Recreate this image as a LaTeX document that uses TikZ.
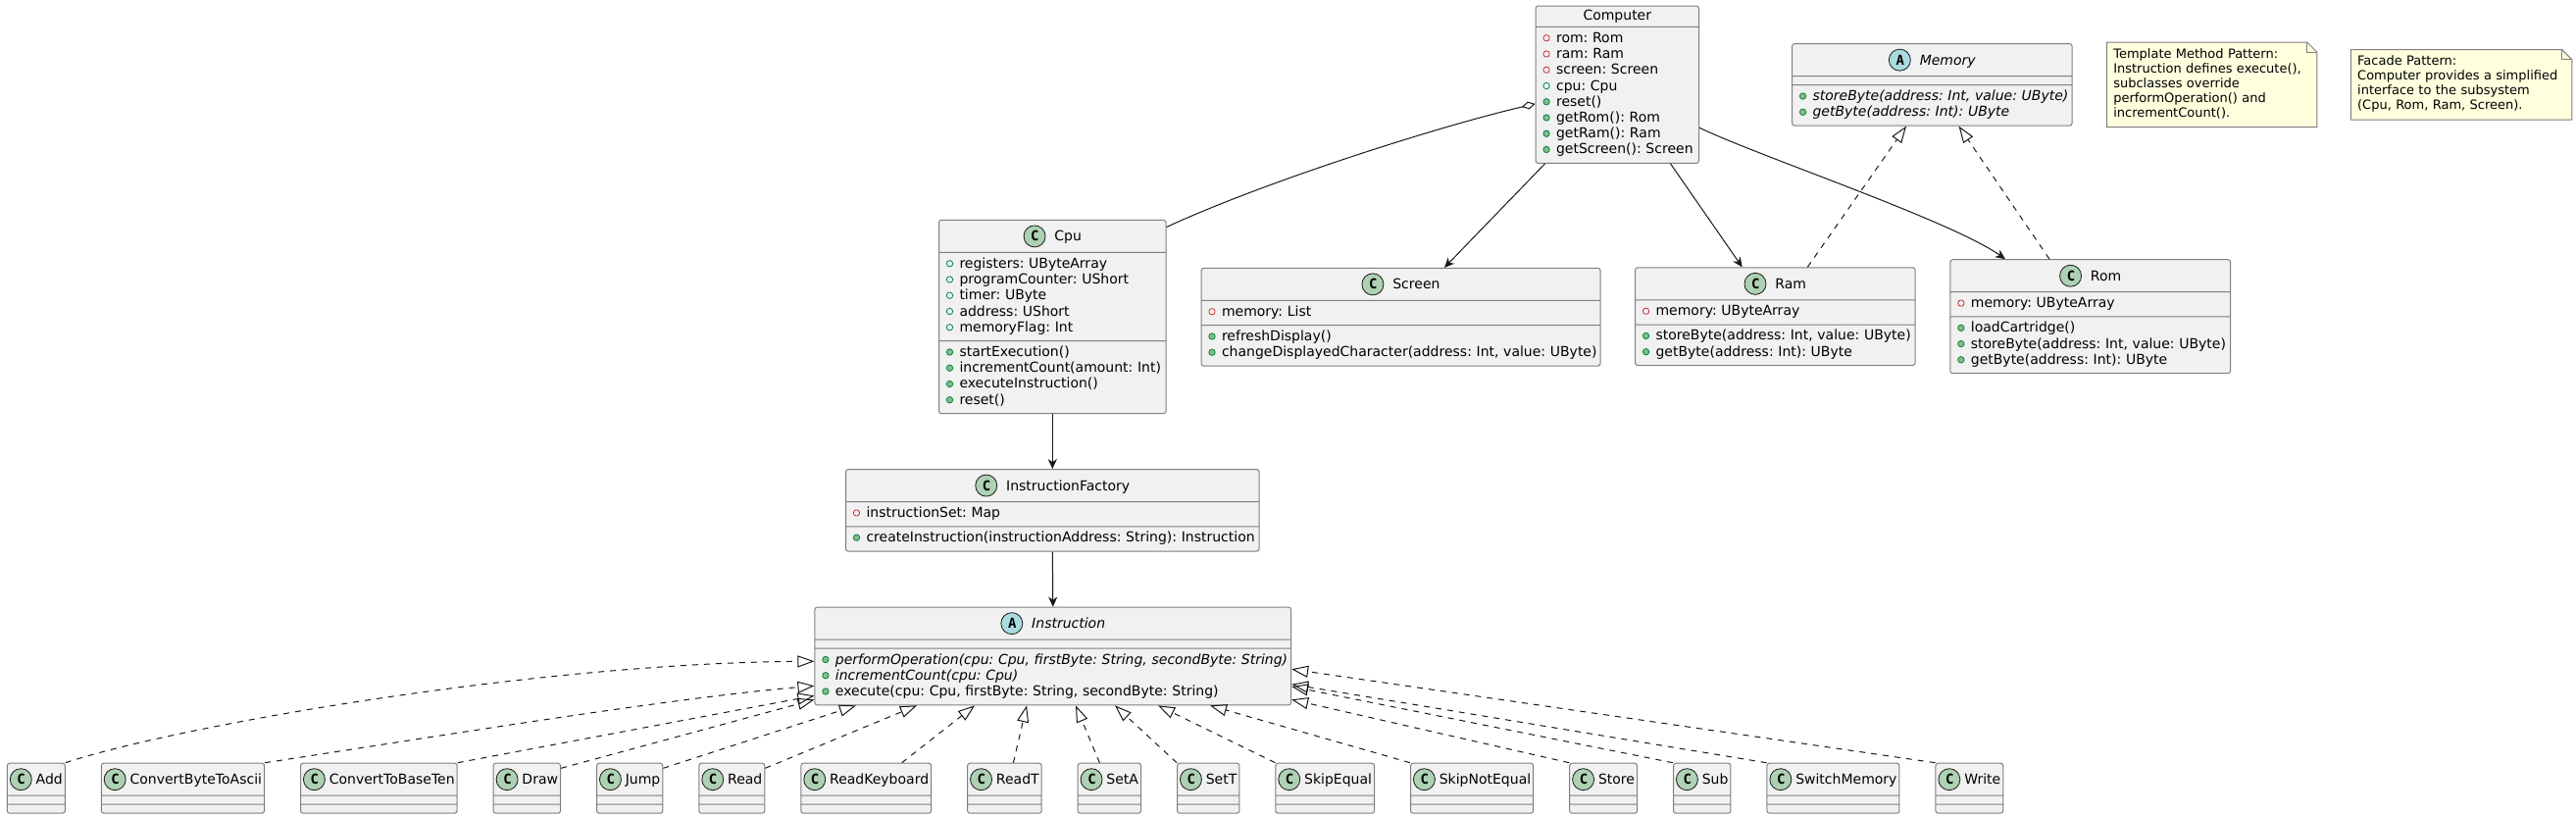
\documentclass[tikz,border=0pt]{standalone}
\usepackage{fontspec}
\setmainfont{DejaVu Sans}
\newfontfamily\spotfont{DejaVu Sans Mono}
\usepackage{tikz}
\usetikzlibrary{arrows.meta,positioning,shapes.multipart,chains,backgrounds}
\frenchspacing

\definecolor{boxfill}{HTML}{F1F1F1}
\definecolor{boxline}{HTML}{7F7F7F}
\definecolor{edgeline}{HTML}{181818}
\definecolor{notefill}{HTML}{FEFFDD}
\definecolor{spotC}{HTML}{ADD1B2}
\definecolor{spotA}{HTML}{A9DCDF}
\definecolor{privred}{HTML}{C82930}
\definecolor{pubgreen}{HTML}{038048}
\definecolor{pubfill}{HTML}{84BE84}

% member marks, 14pt wide each
\newcommand{\privmark}{\tikz[baseline=0pt]{\useasboundingbox (0pt,0pt) rectangle (14pt,8pt); \draw[privred, line width=0.8pt] (1pt,1.5pt) rectangle (7pt,7.5pt);}}
\newcommand{\pubmark}{\tikz[baseline=0pt]{\useasboundingbox (0pt,0pt) rectangle (14pt,8pt); \draw[pubgreen, line width=0.8pt] (4pt,4.5pt) circle[radius=3.2pt];}}
\newcommand{\opmark}{\tikz[baseline=0pt]{\useasboundingbox (0pt,0pt) rectangle (14pt,8pt); \filldraw[draw=pubgreen, fill=pubfill, line width=0.8pt] (4pt,4.5pt) circle[radius=3.2pt];}}
\newcommand{\fpriv}[1]{\strut\privmark\mbox{#1}}
\newcommand{\fpub}[1]{\strut\pubmark\mbox{#1}}
\newcommand{\oppub}[1]{\strut\opmark\mbox{#1}}
\newcommand{\spot}[2]{\tikz[baseline=-5pt]{\filldraw[draw=edgeline, fill=#1, line width=0.8pt] (11pt,0pt) circle[radius=11pt];}\kern-22pt\makebox[22pt]{\spotfont\bfseries #2}}
\newcommand{\clshead}[3]{\rule[-7pt]{0pt}{24pt}\makebox[\linewidth]{\spot{#1}{#2}\hspace{9pt}#3}}
% empty compartments get a flat rule so they stay 8pt high
\newcommand{\subhead}[1]{\rule[-7pt]{0pt}{24pt}\spot{spotC}{C}\hspace{4pt}#1\nodepart{two}\rule{0.1pt}{0pt}\nodepart{three}\rule{0.1pt}{0pt}}

\begin{document}
\begin{tikzpicture}[x=1pt, y=-1pt, font=\fontsize{14pt}{16.24pt}\selectfont,
  cls/.style={rectangle split, rectangle split parts=3, draw=boxline, fill=boxfill, line width=1pt, rounded corners=2.5pt, inner xsep=7pt, inner ysep=4pt, text width=#1, align=left, rectangle split empty part height=0pt, rectangle split empty part depth=0pt},
  subcls/.style={rectangle split, rectangle split parts=3, draw=boxline, fill=boxfill, line width=1pt, rounded corners=2.5pt, inner xsep=2.5pt, inner ysep=4pt, rectangle split empty part width=0pt, rectangle split empty part height=0pt, rectangle split empty part depth=0pt, on chain},
  note/.style={text width=#1, align=left, inner xsep=6.5pt, inner ysep=5.5pt, font=\fontsize{13pt}{15pt}\selectfont, execute at begin node=\strut, execute at end node=\strut},
  assoc/.style={draw=edgeline, line width=1pt, -{Stealth[length=10pt, width=9pt, inset=3pt]}},
  realize/.style={draw=edgeline, line width=1pt, dash pattern=on 6pt off 6pt, -{Triangle[open, length=17pt, width=12pt]}},
  aggr/.style={draw=edgeline, line width=1pt, {Diamond[open, length=14pt, width=8pt]}-}]
  \useasboundingbox (0,0) rectangle (2627,831);

  \node (computer) [cls=152.5pt, rectangle split parts=2] at (1649.3,86.2) {\rule[-2pt]{0pt}{12.4pt}\makebox[\linewidth]{\smash{Computer}}
    \nodepart{two}\fpriv{rom: Rom}\\ \fpriv{ram: Ram}\\ \fpriv{screen: Screen}\\ \fpub{cpu: Cpu}\\
    \oppub{reset()}\\ \oppub{getRom(): Rom}\\ \oppub{getRam(): Ram}\\ \oppub{getScreen(): Screen}};
  \node (memory) [cls=271.5pt] at (1970.3,86.4) {\clshead{spotA}{A}{\itshape Memory}
    \nodepart{two}
    \nodepart{three}\oppub{\itshape storeByte(address: Int, value: UByte)}\\ \oppub{\itshape getByte(address: Int): UByte}};
  \node (tmnote) [note=201pt, right=35pt of memory] {Template Method Pattern:\\ Instruction defines execute(),\\ subclasses override\\ performOperation() and\\ incrementCount().};
  \node (fcnote) [note=212pt, right=34.5pt of tmnote] {Facade Pattern:\\ Computer provides a simplified\\ interface to the subsystem\\ (Cpu, Rom, Ram, Screen).};

  \node (cpu) [cls=217.6pt] at (1073.3,323) {\clshead{spotC}{C}{Cpu}
    \nodepart{two}\fpub{registers: UByteArray}\\ \fpub{programCounter: UShort}\\ \fpub{timer: UByte}\\ \fpub{address: UShort}\\ \fpub{memoryFlag: Int}
    \nodepart{three}\oppub{startExecution()}\\ \oppub{incrementCount(amount: Int)}\\ \oppub{executeInstruction()}\\ \oppub{reset()}};
  \node (screen) [cls=393pt] at (1428.5,323.2) {\clshead{spotC}{C}{Screen}
    \nodepart{two}\fpriv{memory: List}
    \nodepart{three}\oppub{refreshDisplay()}\\ \oppub{changeDisplayedCharacter(address: Int, value: UByte)}};
  \node (ram) [cls=271.5pt] at (1810.3,322.7) {\clshead{spotC}{C}{Ram}
    \nodepart{two}\fpriv{memory: UByteArray}
    \nodepart{three}\oppub{storeByte(address: Int, value: UByte)}\\ \oppub{getByte(address: Int): UByte}};
  \node (rom) [cls=271.7pt] at (2131.7,322.7) {\clshead{spotC}{C}{Rom}
    \nodepart{two}\fpriv{memory: UByteArray}
    \nodepart{three}\oppub{loadCartridge()}\\ \oppub{storeByte(address: Int, value: UByte)}\\ \oppub{getByte(address: Int): UByte}};

  \node (ifac) [cls=407.6pt] at (1073.3,520.3) {\clshead{spotC}{C}{InstructionFactory}
    \nodepart{two}\fpriv{instructionSet: Map}
    \nodepart{three}\oppub{createInstruction(instructionAddress: String): Instruction}};
  \node (instr) [cls=471.7pt] at (1073.8,669) {\clshead{spotA}{A}{\itshape Instruction}
    \nodepart{two}
    \nodepart{three}\oppub{\itshape performOperation(cpu: Cpu, firstByte: String, secondByte: String)}\\
    \oppub{\itshape incrementCount(cpu: Cpu)}\\ \oppub{execute(cpu: Cpu, firstByte: String, secondByte: String)}};

  % the instructions, left to right
  \begin{scope}[start chain=impl going right, node distance=36pt]
    \node (add) [subcls, anchor=north west, at={(6.9,777.7)}] {\subhead{Add}};
    \node (cbta) [subcls] {\subhead{ConvertByteToAscii}};
    \node (ctbt) [subcls] {\subhead{ConvertToBaseTen}};
    \node (drw) [subcls] {\subhead{Draw}};
    \node (jump) [subcls] {\subhead{Jump}};
    \node (read) [subcls] {\subhead{Read}};
    \node (rkb) [subcls] {\subhead{ReadKeyboard}};
    \node (readt) [subcls] {\subhead{ReadT}};
    \node (seta) [subcls] {\subhead{SetA}};
    \node (sett) [subcls] {\subhead{SetT}};
    \node (skeq) [subcls] {\subhead{SkipEqual}};
    \node (skne) [subcls] {\subhead{SkipNotEqual}};
    \node (store) [subcls] {\subhead{Store}};
    \node (sub) [subcls] {\subhead{Sub}};
    \node (swm) [subcls] {\subhead{SwitchMemory}};
    \node (write) [subcls] {\subhead{Write}};
  \end{scope}

  % notes with the folded corner
  \begin{scope}[on background layer]
    \foreach \n in {tmnote, fcnote}
      \filldraw[fill=notefill, draw=boxline, line width=1pt] (\n.south west) -- (\n.north west) -- ([xshift=-10pt]\n.north east) -- ([yshift=-10pt]\n.north east) -- (\n.south east) -- cycle;
  \end{scope}
  \foreach \n in {tmnote, fcnote}
    \draw[boxline, line width=1pt] ([xshift=-10pt]\n.north east) |- ([yshift=-10pt]\n.north east);

  \draw[aggr] ([yshift=-19.7pt]computer.west) .. controls (1470,128) and (1290,185) .. ([yshift=-7.6pt]cpu.north east);
  \draw[assoc] ([xshift=10pt]computer.south west) -- ([xshift=44.5pt]screen.north);
  \draw[assoc] ([xshift=-29.5pt]computer.south east) -- ([xshift=-33.6pt]ram.north);
  \draw[assoc] ([yshift=-44pt]computer.east) .. controls (1790,158) and (1990,225) .. ([xshift=-86.7pt]rom.north);
  \draw[realize] ([xshift=33pt]ram.north) -- ([xshift=-26.3pt]memory.south);
  \draw[realize] ([xshift=-41.7pt]rom.north) -- ([xshift=27.3pt]memory.south);
  \draw[assoc] (cpu.south) -- (ifac.north);
  \draw[assoc] (ifac.south) -- (instr.north);

  \draw[realize] (add.north east) .. controls (180,740) and (550,676) .. ([yshift=-5.3pt]instr.west);
  \draw[realize] (cbta.north east) .. controls (420,755) and (680,712) .. ([yshift=-30.3pt]instr.west);
  \draw[realize] (ctbt.north east) -- ([yshift=-40.3pt]instr.west);
  \draw[realize] ([yshift=-5.6pt]drw.north east) -- ([yshift=-44.3pt]instr.west);
  \draw[realize] ([yshift=-5.6pt]jump.north east) -- ([xshift=-200.8pt]instr.south);
  \draw[realize] ([yshift=-5.6pt]read.north east) -- ([xshift=-138.8pt]instr.south);
  \draw[realize] ([xshift=-30.4pt]rkb.north east) -- ([xshift=-79.8pt]instr.south);
  \draw[realize] ([xshift=9pt]readt.north) -- ([xshift=-26.8pt]instr.south);
  \draw[realize] ([xshift=-10pt]seta.north) -- ([xshift=23.2pt]instr.south);
  \draw[realize] (sett.north west) -- ([xshift=63.2pt]instr.south);
  \draw[realize] (skeq.north west) -- ([xshift=107.2pt]instr.south);
  \draw[realize] (skne.north west) -- ([xshift=160.2pt]instr.south);
  \draw[realize] (store.north west) -- ([yshift=-44.3pt]instr.east);
  \draw[realize] (sub.north west) -- ([yshift=-31pt]instr.east);
  \draw[realize] (swm.north west) -- ([yshift=-28.7pt]instr.east);
  \draw[realize] (write.north west) -- ([yshift=-13.3pt]instr.east);
\end{tikzpicture}
\end{document}
